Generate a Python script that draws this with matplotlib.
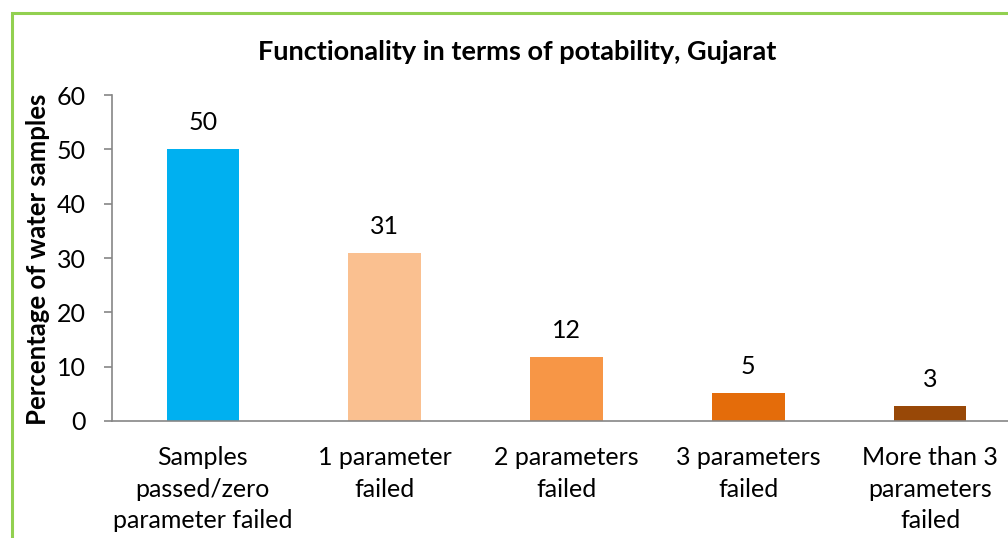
import matplotlib.pyplot as plt
from matplotlib.patches import Rectangle

plt.rcParams['font.family'] = ['Lato', 'DejaVu Sans']

categories = ['Samples\npassed/zero\nparameter failed', '1 parameter\nfailed',
              '2 parameters\nfailed', '3 parameters\nfailed', 'More than 3\nparameters\nfailed']
values = [50.1, 30.9, 11.8, 5.1, 2.7]
labels = ['50', '31', '12', '5', '3']
colors = ['#00B0F0', '#FAC090', '#F79646', '#E46C0A', '#984807']

fig = plt.figure(figsize=(10.08, 5.38), dpi=100)
ax = fig.add_axes([112/1008, 1-421/538, 909/1008, 326/538])

x = range(len(values))
bars = ax.bar(x, values, width=0.4, color=colors)
for b, lab in zip(bars, labels):
    ax.annotate(lab, (b.get_x() + b.get_width()/2, b.get_height()),
                xytext=(0, 11), textcoords='offset points',
                ha='center', va='bottom', fontsize=18)

ax.set_xlim(-0.5, 4.5)
ax.set_ylim(0, 60)
ax.set_yticks(range(0, 61, 10))
ax.set_xticks(list(x))
ax.set_xticklabels(categories, fontsize=18, linespacing=1.45)
ax.tick_params(axis='x', length=0, pad=18)
ax.tick_params(axis='y', labelsize=18, length=6, color='#868686', width=1.2, pad=13)
for s in ['top', 'right']:
    ax.spines[s].set_visible(False)
for s in ['left', 'bottom']:
    ax.spines[s].set_color('#868686')
    ax.spines[s].set_linewidth(1.2)

fig.text(517/1008, 1-52/538, 'Functionality in terms of potability, Gujarat',
         ha='center', va='center', fontsize=19.5, fontweight='bold')
fig.text(38/1008, 1-259/538, 'Percentage of water samples', rotation=90,
         ha='center', va='center', fontsize=18.5, fontweight='bold')

fig.patches.append(Rectangle((12/1008, -0.1), 1.2, 1-13/538+0.1, transform=fig.transFigure,
                             fill=False, edgecolor='#92D050', linewidth=2.2))

fig.savefig('out.png', dpi=100)
